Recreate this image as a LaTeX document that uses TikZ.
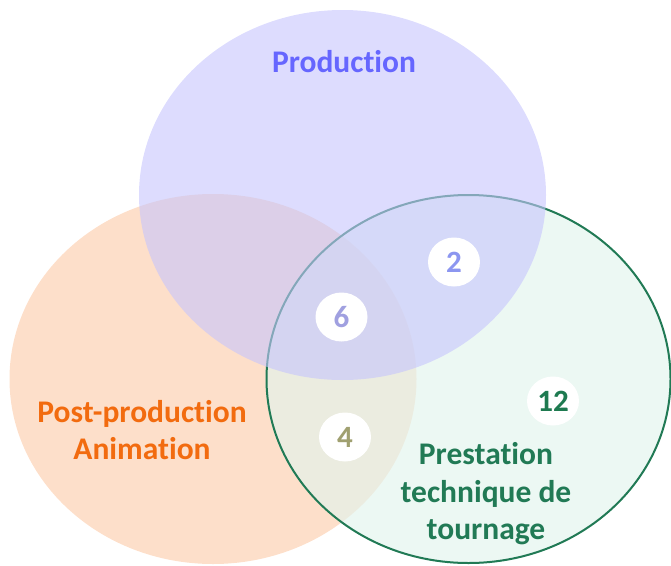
\documentclass[tikz,border=0pt]{standalone}
\usepackage{fontspec}
\setmainfont{Carlito}[Ligatures={NoCommon}]
\usetikzlibrary{shapes.geometric}
\definecolor{orangefill}{RGB}{253,223,202}
\definecolor{greenfill}{RGB}{226,244,237}
\definecolor{bluefill}{RGB}{198,197,253}
\definecolor{greenline}{RGB}{33,122,85}
\definecolor{prodtext}{RGB}{102,102,255}
\definecolor{posttext}{RGB}{242,107,15}
\definecolor{presttext}{RGB}{33,122,85}
\definecolor{ntwo}{RGB}{140,150,240}
\definecolor{nsix}{RGB}{160,160,224}
\definecolor{nfour}{RGB}{160,160,112}
\definecolor{ntwelve}{RGB}{30,122,80}
\begin{document}
\begin{tikzpicture}[x=1pt,y=-1pt,
  lbl/.style={font=\bfseries\fontsize{31.5}{37.5}\selectfont, align=center, inner sep=0pt},
  num/.style={ellipse, fill=white, minimum width=52pt, minimum height=49pt, inner sep=0pt,
    font=\bfseries\fontsize{31}{31}\selectfont}]
\useasboundingbox (0,0) rectangle (671,565);
% Post-production (orange)
\fill[orangefill] (213,379) ellipse [x radius=203.5, y radius=185];
% Prestation (green)
\fill[greenfill, fill opacity=0.65] (468.5,379) ellipse [x radius=203, y radius=185];
\draw[greenline, line width=2pt] (468.5,379) ellipse [x radius=202, y radius=184];
% Production (blue)
\fill[bluefill, fill opacity=0.6] (342.5,195) ellipse [x radius=203.5, y radius=185];
% labels
\node[lbl, text=prodtext] (prod) at (344,62) {Production};
\node[lbl, text=posttext] (post) at (142,430) {Post-production\\Animation};
\node[lbl, text=presttext] (prest) at (486,494) {Prestation\\technique de\\tournage};
% numbers
\node[num, text=ntwo] (n2) at (454,262) {2};
\node[num, text=nsix] (n6) at (341.5,317) {6};
\node[num, text=nfour] (n4) at (345,437) {4};
\node[num, text=ntwelve] (n12) at (553,401) {12};
\end{tikzpicture}
\end{document}
